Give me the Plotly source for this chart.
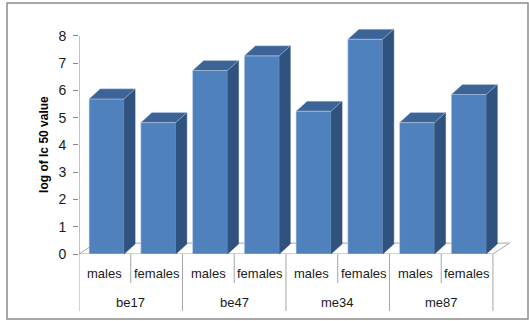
import plotly.graph_objects as go

groups = ["be17", "be47", "me34", "me87"]
sexes = ["males", "females"]
values = [5.69, 4.82, 6.73, 7.27, 5.24, 7.88, 4.82, 5.85]
y_ticks = [0, 1, 2, 3, 4, 5, 6, 7, 8]
y_title = "log of Ic 50 value"

FRONT = "#4F81BD"
SIDE = "#30527E"
TOP = "#3C6497"
EDGE = "rgba(200,215,235,0.7)"
FONT = "Liberation Sans, Arial, sans-serif"

# geometry in axis units
bar_off = 0.195      # left edge of front face inside slot
bar_w = 0.676        # width of front face
dx, dy = 0.213, 0.367  # 3D depth offset for bars
fdx, fdy = 0.32, 0.40  # 3D depth offset for floor
n = len(values)

fig = go.Figure()

# floor
fig.add_trace(go.Scatter(
    x=[0, fdx, n + fdx, n, 0], y=[0, fdy, fdy, 0, 0],
    fill="toself", fillcolor="white", mode="lines",
    line=dict(color="#A6A6A6", width=1), hoverinfo="skip", showlegend=False))

for i, v in enumerate(values):
    x0 = i + bar_off
    x1 = x0 + bar_w
    # front
    fig.add_trace(go.Scatter(
        x=[x0, x1, x1, x0, x0], y=[0, 0, v, v, 0],
        fill="toself", fillcolor=FRONT, mode="lines",
        line=dict(color=EDGE, width=0.8), hoverinfo="skip", showlegend=False))
    # side
    fig.add_trace(go.Scatter(
        x=[x1, x1 + dx, x1 + dx, x1, x1], y=[0, dy, v + dy, v, 0],
        fill="toself", fillcolor=SIDE, mode="lines",
        line=dict(color=SIDE, width=0.5), hoverinfo="skip", showlegend=False))
    # top
    fig.add_trace(go.Scatter(
        x=[x0, x1, x1 + dx, x0 + dx, x0], y=[v, v, v + dy, v + dy, v],
        fill="toself", fillcolor=TOP, mode="lines",
        line=dict(color=EDGE, width=0.6), hoverinfo="skip", showlegend=False))

shapes = []
# y axis line
shapes.append(dict(type="line", xref="x", yref="y", x0=0, x1=0, y0=0, y1=max(y_ticks),
                   line=dict(color="#868686", width=1)))
# category dividers
for b in range(n + 1):
    length = 57 if b % 2 == 0 else 29
    shapes.append(dict(type="line", xref="x", yref="paper", ysizemode="pixel",
                       yanchor=0, x0=b, x1=b, y0=0, y1=-length,
                       line=dict(color="#A6A6A6", width=1)))
# chart border
shapes.append(dict(type="rect", xref="paper", yref="paper",
                   x0=-0.1618, x1=1.009, y0=-0.284, y1=1.096,
                   line=dict(color="#8C8C8C", width=1.5)))

annotations = []
for i in range(n):
    annotations.append(dict(x=i + 0.5, y=0, xref="x", yref="paper", yshift=-19,
                            xanchor="center", yanchor="middle",
                            text=sexes[i % 2], showarrow=False,
                            font=dict(family=FONT, size=13, color="#1a1a1a")))
for g, name in enumerate(groups):
    annotations.append(dict(x=2 * g + 1, y=0, xref="x", yref="paper", yshift=-48,
                            xanchor="center", yanchor="middle",
                            text=name, showarrow=False,
                            font=dict(family=FONT, size=13, color="#1a1a1a")))
annotations.append(dict(x=0, y=4, xref="paper", yref="y", xshift=-35,
                        xanchor="center", yanchor="middle",
                        text="<b>" + y_title + "</b>", textangle=-90, showarrow=False,
                        font=dict(family=FONT, size=12, color="black")))

fig.update_layout(
    width=529, height=321,
    margin=dict(l=79, r=5, t=25, b=67),
    paper_bgcolor="white", plot_bgcolor="white",
    xaxis=dict(range=[0, 8.6], visible=False, fixedrange=True),
    yaxis=dict(range=[0, 8.4], tickvals=y_ticks, ticks="outside", ticklen=5,
               tickcolor="#868686", showgrid=False, zeroline=False, showline=False,
               tickfont=dict(family=FONT, size=14, color="#1a1a1a"),
               ticklabelstandoff=4, fixedrange=True),
    shapes=shapes, annotations=annotations, showlegend=False,
)

fig.write_html("out.html", config={"displayModeBar": False})
